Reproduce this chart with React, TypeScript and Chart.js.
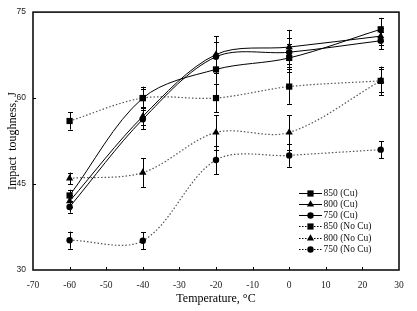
import React, { useEffect, useRef } from 'react';
import { Chart, registerables } from 'chart.js';

Chart.register(...registerables);

const temperatures = [-60, -40, -20, 0, 25];

const cu850 = [43, 60, 65, 67, 72];
const cu800 = [42, 56.8, 67.6, 68.9, 70.8];
const cu750 = [41, 56.3, 67.2, 68, 70];
const noCu850 = [56, 60, 60, 62, 63];
const noCu800 = [46, 47, 54, 54, 63];
const noCu750 = [35.2, 35.1, 49.2, 50, 51];

const cu850Err = [1, 2, 2.5, 2.5, 2];
const cu800Err = [1, 1.5, 3.2, 3, 1.5];
const cu750Err = [1, 1.7, 2.5, 2.5, 1.5];
const noCu850Err = [1.5, 1.5, 2.5, 3, 2.5];
const noCu800Err = [1, 2.5, 3, 3, 2];
const noCu750Err = [1.5, 1.5, 2.5, 2, 1.5];

const seriesLabels = ['850 (Cu)', '800 (Cu)', '750 (Cu)', '850 (No Cu)', '800 (No Cu)', '750 (No Cu)'];
const seriesValues = [cu850, cu800, cu750, noCu850, noCu800, noCu750];
const seriesErrors = [cu850Err, cu800Err, cu750Err, noCu850Err, noCu800Err, noCu750Err];
const seriesMarkers = ['rect', 'triangle', 'circle', 'rect', 'triangle', 'circle'];
const seriesDotted = [false, false, false, true, true, true];

const xMin = -70;
const xMax = 30;
const xStep = 10;
const yMin = 30;
const yMax = 75;
const yStep = 15;

const xTitle = 'Temperature, °C';
const yTitle = 'Impact  toughness, J';

const markerRadius: Record<string, number> = { rect: 4.4, triangle: 4.2, circle: 3.2 };

function drawMarker(ctx: CanvasRenderingContext2D, style: string, x: number, y: number) {
  ctx.beginPath();
  if (style === 'rect') {
    const h = 3.1;
    ctx.rect(x - h, y - h, 2 * h, 2 * h);
  } else if (style === 'triangle') {
    const r = 4.2;
    ctx.moveTo(x, y - r);
    ctx.lineTo(x + r * 0.866, y + r * 0.5);
    ctx.lineTo(x - r * 0.866, y + r * 0.5);
    ctx.closePath();
  } else {
    ctx.arc(x, y, 3.2, 0, Math.PI * 2);
  }
  ctx.fillStyle = '#000';
  ctx.fill();
}

const errorBarPlugin = {
  id: 'errorBars',
  beforeDatasetsDraw(chart: any) {
    const { ctx, scales } = chart;
    const xs = scales.x;
    const ys = scales.y;
    ctx.save();
    ctx.strokeStyle = '#000';
    ctx.lineWidth = 1;
    seriesValues.forEach((vals, si) => {
      vals.forEach((v, i) => {
        const e = seriesErrors[si][i];
        const px = Math.round(xs.getPixelForValue(temperatures[i])) + 0.5;
        const pTop = ys.getPixelForValue(v + e);
        const pBot = ys.getPixelForValue(v - e);
        ctx.beginPath();
        ctx.moveTo(px, pTop);
        ctx.lineTo(px, pBot);
        ctx.moveTo(px - 2.5, Math.round(pTop) + 0.5);
        ctx.lineTo(px + 2.5, Math.round(pTop) + 0.5);
        ctx.moveTo(px - 2.5, Math.round(pBot) + 0.5);
        ctx.lineTo(px + 2.5, Math.round(pBot) + 0.5);
        ctx.stroke();
      });
    });
    ctx.restore();
  },
};

const framePlugin = {
  id: 'frame',
  afterDraw(chart: any) {
    const { ctx, chartArea, scales } = chart;
    const { left, right, top, bottom } = chartArea;
    ctx.save();
    ctx.strokeStyle = '#000';
    ctx.lineWidth = 1.5;
    ctx.strokeRect(left, top, right - left, bottom - top);
    ctx.lineWidth = 1;
    ctx.beginPath();
    for (let v = xMin + xStep; v < xMax; v += xStep) {
      const px = Math.round(scales.x.getPixelForValue(v)) + 0.5;
      ctx.moveTo(px, bottom);
      ctx.lineTo(px, bottom - 3);
    }
    for (let v = yMin + yStep; v < yMax; v += yStep) {
      const py = Math.round(scales.y.getPixelForValue(v)) + 0.5;
      ctx.moveTo(left, py);
      ctx.lineTo(left + 3, py);
    }
    ctx.stroke();

    // legend
    const lx0 = 299;
    const lx1 = 322;
    const mx = 310.5;
    const tx = 323.5;
    const y0 = 192.7;
    const dy = 11.25;
    ctx.font = '9.5px "Liberation Serif"';
    ctx.textBaseline = 'middle';
    ctx.textAlign = 'left';
    seriesLabels.forEach((label, i) => {
      const y = Math.round(y0 + i * dy) + 0.5;
      ctx.beginPath();
      ctx.strokeStyle = '#000';
      ctx.lineWidth = 1;
      if (seriesDotted[i]) ctx.setLineDash([1.5, 1.5]);
      else ctx.setLineDash([]);
      ctx.moveTo(lx0, y);
      ctx.lineTo(lx1, y);
      ctx.stroke();
      ctx.setLineDash([]);
      drawMarker(ctx, seriesMarkers[i], mx, y);
      ctx.fillStyle = '#111';
      ctx.fillText(label, tx, y);
    });
    ctx.restore();
  },
};

export default function App() {
  const ref = useRef<HTMLCanvasElement | null>(null);
  useEffect(() => {
    document.body.style.margin = '0';
    if (!ref.current) return;
    const datasets = seriesLabels.map((label, si) => ({
      label,
      data: temperatures.map((t, i) => ({ x: t, y: seriesValues[si][i] })),
      borderColor: seriesDotted[si] ? '#555' : '#000',
      borderWidth: seriesDotted[si] ? 1.2 : 1,
      borderDash: seriesDotted[si] ? [1.5, 2] : [],
      tension: 0.33,
      fill: false,
      pointStyle: seriesMarkers[si] as any,
      pointRadius: markerRadius[seriesMarkers[si]],
      pointBackgroundColor: '#000',
      pointBorderColor: '#000',
      pointBorderWidth: 0,
    }));
    const chart = new Chart(ref.current, {
      type: 'line',
      data: { datasets },
      plugins: [errorBarPlugin, framePlugin],
      options: {
        animation: false,
        responsive: false,
        devicePixelRatio: 1,
        layout: { padding: { top: 10, right: 18, left: 0, bottom: 0 } },
        plugins: { legend: { display: false }, tooltip: { enabled: false } },
        scales: {
          x: {
            type: 'linear',
            min: xMin,
            max: xMax,
            grid: { display: false, drawTicks: false },
            border: { display: false },
            ticks: {
              stepSize: xStep,
              padding: 10,
              color: '#222',
              font: { family: '"Liberation Serif"', size: 9.5 },
              maxRotation: 0,
            },
            title: {
              display: true,
              text: xTitle,
              color: '#000',
              font: { family: '"Liberation Serif"', size: 12 },
              padding: { top: 0, bottom: 5 },
            },
            afterFit: (s: any) => {
              s.height = 41;
            },
          },
          y: {
            type: 'linear',
            min: yMin,
            max: yMax,
            grid: { display: false, drawTicks: false },
            border: { display: false },
            ticks: {
              stepSize: yStep,
              padding: 7,
              color: '#222',
              font: { family: '"Liberation Sans"', size: 8.5 },
            },
            title: {
              display: true,
              text: yTitle,
              color: '#000',
              font: { family: '"Liberation Serif"', size: 12 },
              padding: { top: 6, bottom: 0 },
            },
            afterFit: (s: any) => {
              s.width = 33;
            },
          },
        },
      },
    });
    return () => chart.destroy();
  }, []);
  return (
    <div style={{ width: 417, height: 311 }}>
      <canvas ref={ref} width={417} height={311} />
    </div>
  );
}
